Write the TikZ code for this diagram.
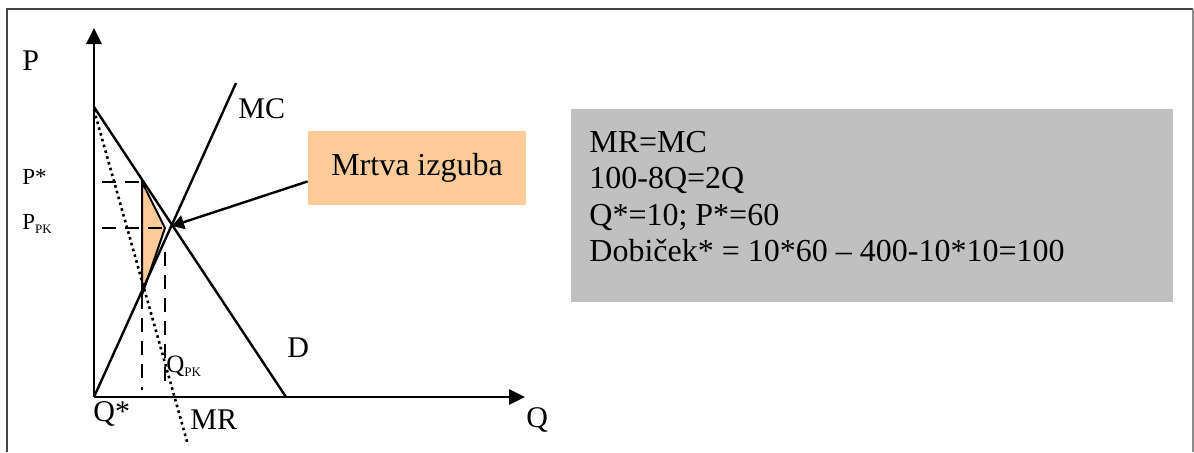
\documentclass[tikz,border=0pt]{standalone}
\usepackage{fontspec}
\setmainfont{Liberation Serif}
\usetikzlibrary{arrows.meta}
\definecolor{lossorange}{HTML}{FFCC99}
\definecolor{calcgray}{HTML}{C0C0C0}
\definecolor{framedark}{HTML}{444444}
\definecolor{framelight}{HTML}{8C8C8C}
\tikzstyle{axis}=[line width=1.4pt,-{Triangle[length=8pt,width=7.5pt]}]
\tikzstyle{curve}=[line width=1.2pt]
\tikzstyle{guide}=[line width=1.2pt,dash pattern=on 7pt off 4.5pt]
\tikzstyle{mrline}=[line width=1.3pt,dash pattern=on 1.3pt off 1.7pt]
\tikzstyle{lbl}=[anchor=base west,inner sep=0pt,font=\fontsize{15}{18}\selectfont]
\tikzstyle{smalllbl}=[anchor=base west,inner sep=0pt,font=\fontsize{11.5}{14}\selectfont]
\newcommand{\pksub}{\raisebox{-2pt}{\fontsize{6.5}{7}\selectfont PK}}

\begin{document}
\begin{tikzpicture}[x=0.5pt,y=-0.5pt]
    \useasboundingbox (0,0) rectangle (1194,452);
    \draw[framedark,line width=1pt] (7,452) -- (7,9) -- (1193,9);
    \draw[framelight,line width=1pt] (1193,9) -- (1193,452);

    % points of the graph
    \coordinate (O) at (94,397);
    \coordinate (ytip) at (94,28);
    \coordinate (xtip) at (525,397);
    \coordinate (Dtop) at (94,107);
    \coordinate (Dend) at (286,397);
    \coordinate (MRtop) at (94,110);
    \coordinate (MRend) at (188,445);
    \coordinate (MCend) at (236,83);
    \coordinate (A) at (142,182);
    \coordinate (B) at (165,228);
    \coordinate (C) at (142,295);
    \coordinate (eq) at (172,226);

    \fill[lossorange] (A) -- (B) -- (C) -- cycle;
    \draw[line width=1pt] (A) -- (B) -- (C) -- cycle;

    \draw[guide] (102,182) -- (A);
    \draw[guide] (102,228) -- (B);
    \draw[guide] (C) -- (142,390);
    \draw[guide] (165,252) -- (165,390);

    \draw[curve] (Dtop) -- (Dend);
    \draw[curve] (O) -- (MCend);
    \draw[mrline] (MRtop) -- (MRend);

    \draw[axis] (O) -- (ytip);
    \draw[axis] (O) -- (xtip);

    \node[lbl] (Plbl) at (22,70) {P};
    \node[lbl] (MClbl) at (238,118) {MC};
    \node[smalllbl] (Pstar) at (22,184) {P*};
    \node[smalllbl] (Ppk) at (22,229) {P\pksub};
    \node[lbl] (Dlbl) at (287,357) {D};
    \node[smalllbl,font=\fontsize{12.5}{14}\selectfont] (Qpk) at (166,372) {Q\pksub};
    \node[lbl] (Qstar) at (93,421) {Q*};
    \node[lbl] (MRlbl) at (190,429) {MR};
    \node[lbl] (Qlbl) at (526,427) {Q};

    \node[fill=lossorange,minimum width=109pt,minimum height=37pt,inner sep=0pt,
          font=\fontsize{16}{19}\selectfont] (loss) at (417,168) {Mrtva izguba};
    \draw[line width=1.2pt,-{Triangle[length=6pt,width=7pt]}] (loss.187) -- (eq);

    \node[fill=calcgray,minimum width=301pt,minimum height=96.5pt,inner sep=0pt,
          anchor=north west] (calc) at (571,109) {};
    \foreach \txt [count=\i] in {MR=MC, 100-8Q=2Q, {Q*=10; P*=60},
                                 {Dobiček* = 10*60 – 400-10*10=100}}
        \node[lbl,font=\fontsize{16}{19}\selectfont] (calc\i) at (589,{152+36.5*(\i-1)}) {\txt};
\end{tikzpicture}
\end{document}
